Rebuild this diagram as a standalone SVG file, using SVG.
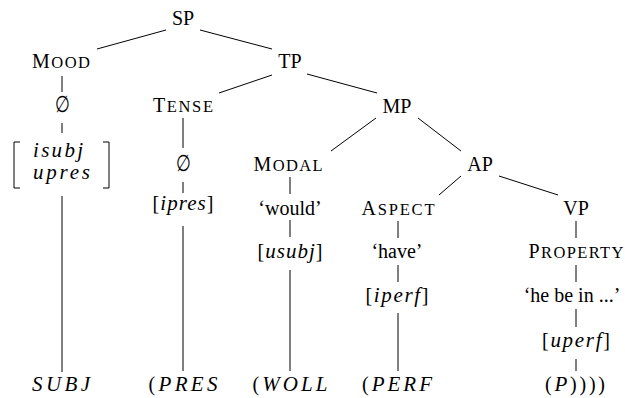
<svg xmlns="http://www.w3.org/2000/svg" width="625" height="398" viewBox="0 0 625 398">
<style>
text{font-family:"Liberation Serif","Times New Roman",serif;font-size:20px;fill:#000;text-anchor:middle}
.m{font-style:italic;font-size:21px}
.sc{font-size:16.5px}
.e{font-family:"DejaVu Serif","Liberation Serif",serif;font-size:17px}
#edges line,#edges polyline{stroke:#000;stroke-width:1;fill:none}
</style>
<rect width="625" height="398" fill="#fff"/>
<g id="edges">
<line x1="97" y1="49" x2="166" y2="30"/>
<line x1="200" y1="30" x2="272" y2="49"/>
<line x1="62" y1="76" x2="62" y2="92"/>
<line x1="62" y1="123" x2="62" y2="133"/>
<line x1="62" y1="196" x2="62" y2="372"/>
<line x1="272" y1="75" x2="219" y2="93"/>
<line x1="307" y1="74" x2="377" y2="93"/>
<line x1="183" y1="118" x2="183" y2="148"/>
<line x1="183" y1="182" x2="183" y2="193"/>
<line x1="183" y1="226" x2="183" y2="371"/>
<line x1="376" y1="118" x2="331" y2="151"/>
<line x1="418" y1="118" x2="461" y2="151"/>
<line x1="290" y1="177" x2="290" y2="194"/>
<line x1="290" y1="220" x2="290" y2="237"/>
<line x1="290" y1="270" x2="290" y2="371"/>
<line x1="461" y1="176" x2="439" y2="195"/>
<line x1="499" y1="176" x2="558" y2="195"/>
<line x1="398" y1="221" x2="398" y2="238"/>
<line x1="398" y1="265" x2="398" y2="282"/>
<line x1="398" y1="313" x2="398" y2="371"/>
<line x1="576" y1="221" x2="576" y2="238"/>
<line x1="576" y1="265" x2="576" y2="282"/>
<line x1="576" y1="309" x2="576" y2="327"/>
<line x1="576" y1="359" x2="576" y2="371"/>
<polyline points="20,142 14,142 14,188 20,188"/>
<polyline points="103,142 109,142 109,188 103,188"/>
</g>
<g id="SP"><text x="183" y="25">SP</text></g>
<g id="Mood"><text x="61" y="68" textLength="58" lengthAdjust="spacing">M<tspan class="sc">OOD</tspan></text></g>
<g id="TP"><text x="290" y="68">TP</text></g>
<g id="Mood-null"><text class="e" transform="translate(62,112) scale(1,1.35)">∅</text></g>
<g id="Mood-features">
<text class="m" x="33" y="157" style="text-anchor:start" textLength="50" lengthAdjust="spacing">isubj</text>
<text class="m" x="33" y="179" style="text-anchor:start" textLength="57" lengthAdjust="spacing">upres</text>
</g>
<g id="Tense"><text x="183" y="112" textLength="60" lengthAdjust="spacing">T<tspan class="sc">ENSE</tspan></text></g>
<g id="MP"><text x="397" y="113">MP</text></g>
<g id="Tense-null"><text class="e" transform="translate(183,171) scale(1,1.35)">∅</text></g>
<g id="Tense-features"><text x="183" y="210" textLength="61" lengthAdjust="spacing">[<tspan class="m">ipres</tspan>]</text></g>
<g id="Modal"><text x="288" y="171" textLength="69" lengthAdjust="spacing">M<tspan class="sc">ODAL</tspan></text></g>
<g id="AP"><text x="480" y="171">AP</text></g>
<g id="would"><text x="290" y="215">‘would’</text></g>
<g id="Modal-features"><text x="290" y="258" textLength="65" lengthAdjust="spacing">[<tspan class="m">usubj</tspan>]</text></g>
<g id="Aspect"><text x="398" y="215" textLength="73" lengthAdjust="spacing">A<tspan class="sc">SPECT</tspan></text></g>
<g id="VP"><text x="576" y="215">VP</text></g>
<g id="have"><text x="397" y="258">‘have’</text></g>
<g id="Aspect-features"><text x="397" y="302" textLength="63" lengthAdjust="spacing">[<tspan class="m">iperf</tspan>]</text></g>
<g id="Property"><text x="576" y="258" textLength="95" lengthAdjust="spacing">P<tspan class="sc">ROPERTY</tspan></text></g>
<g id="hebein"><text x="572" y="302">‘he be in ...’</text></g>
<g id="VP-features"><text x="576" y="347" textLength="68" lengthAdjust="spacing">[<tspan class="m">uperf</tspan>]</text></g>
<g id="bottom">
<text class="m" x="61" y="391" textLength="58" lengthAdjust="spacing">SUBJ</text>
<text x="183" y="391" textLength="69" lengthAdjust="spacing">(<tspan class="m">PRES</tspan></text>
<text x="290" y="391" textLength="75" lengthAdjust="spacing">(<tspan class="m">WOLL</tspan></text>
<text x="397" y="391" textLength="70" lengthAdjust="spacing">(<tspan class="m">PERF</tspan></text>
<text x="575" y="391" textLength="60" lengthAdjust="spacing">(<tspan class="m">P</tspan>))))</text>
</g>
</svg>
